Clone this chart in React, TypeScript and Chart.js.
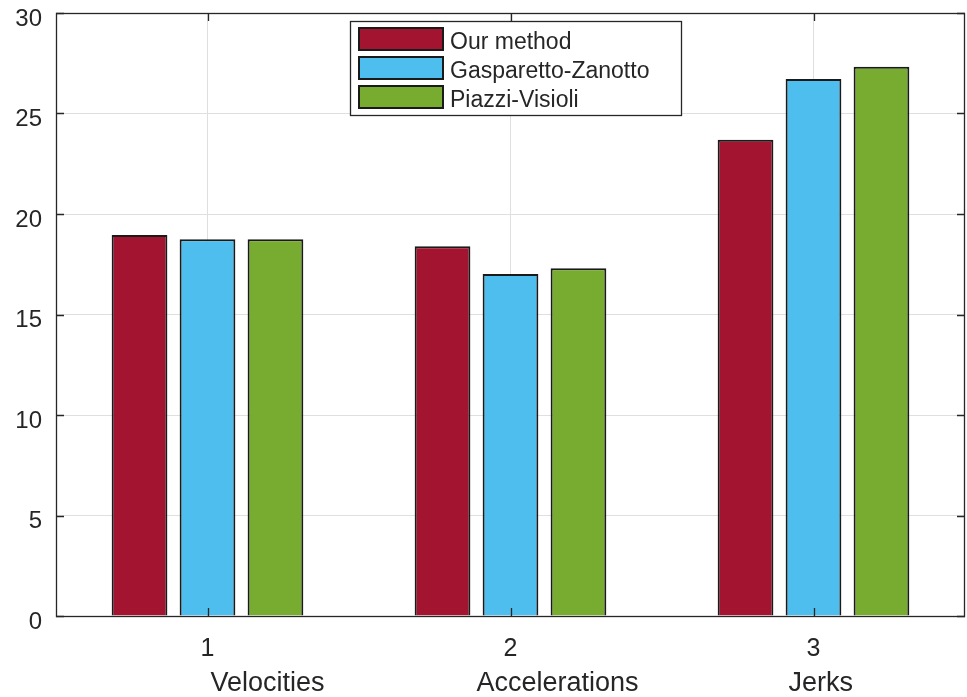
import React, { useEffect, useRef } from 'react';
import { Chart, registerables } from 'chart.js';

Chart.register(...registerables);

const categories = ['1', '2', '3'];
const groupNames = ['Velocities', 'Accelerations', 'Jerks'];
const seriesNames = ['Our method', 'Gasparetto-Zanotto', 'Piazzi-Visioli'];
const ourMethod = [18.95, 18.4, 23.7];
const gasparettoZanotto = [18.75, 17.02, 26.72];
const piazziVisioli = [18.75, 17.3, 27.32];
const yTickValues = [0, 5, 10, 15, 20, 25, 30];

const COLORS = ['#A2142F', '#4DBEEE', '#77AC30'];
const AXIS = '#262626';
const FONT = "'Liberation Sans', Arial, sans-serif";

const framePlugin = {
  id: 'matlabFrame',
  afterDatasetsDraw(chart: any) {
    const { ctx, chartArea, scales } = chart;
    const { left, right, top, bottom } = chartArea;
    const xs = scales.x;
    const ys = scales.y;
    ctx.save();
    ctx.strokeStyle = AXIS;
    ctx.lineWidth = 1.3;
    // tick marks (inward)
    ctx.beginPath();
    yTickValues.forEach((v) => {
      const y = Math.round(ys.getPixelForValue(v)) + 0.5;
      ctx.moveTo(left, y);
      ctx.lineTo(left + 8, y);
      ctx.moveTo(right, y);
      ctx.lineTo(right - 8, y);
    });
    categories.forEach((_, i) => {
      const x = Math.round(xs.getPixelForValue(i)) + 0.5;
      ctx.moveTo(x, bottom);
      ctx.lineTo(x, bottom - 8);
      ctx.moveTo(x, top);
      ctx.lineTo(x, top + 8);
    });
    ctx.stroke();
    // box
    ctx.strokeRect(Math.round(left) + 0.5, Math.round(top) + 0.5, Math.round(right - left) - 1, Math.round(bottom - top));

    // legend
    const lx = left + 294;
    const ly = top + 8;
    const lw = 331;
    const lh = 94;
    ctx.fillStyle = '#ffffff';
    ctx.fillRect(lx, ly, lw, lh);
    ctx.lineWidth = 1.3;
    ctx.strokeStyle = AXIS;
    ctx.strokeRect(Math.round(lx) + 0.5, Math.round(ly) + 0.5, lw, lh);
    ctx.font = `23px ${FONT}`;
    ctx.textBaseline = 'middle';
    ctx.textAlign = 'left';
    seriesNames.forEach((name, i) => {
      const sy = ly + 7 + i * 29;
      ctx.fillStyle = COLORS[i];
      ctx.fillRect(lx + 9, sy, 84, 22);
      ctx.strokeStyle = '#1a1a1a';
      ctx.lineWidth = 2;
      ctx.strokeRect(lx + 9, sy, 84, 22);
      ctx.fillStyle = AXIS;
      ctx.fillText(name, lx + 100, sy + 11 + 4);
    });

    // group names below tick labels
    const offsets = [3, -34, -25];
    ctx.font = `27px ${FONT}`;
    ctx.textBaseline = 'alphabetic';
    ctx.fillStyle = AXIS;
    groupNames.forEach((name, i) => {
      const x = xs.getPixelForValue(i) + offsets[i];
      ctx.fillText(name, x, bottom + 75);
    });
    ctx.restore();
  },
};

function BarChart() {
  const ref = useRef<HTMLCanvasElement | null>(null);
  useEffect(() => {
    if (!ref.current) return;
    const chart = new Chart(ref.current, {
      type: 'bar',
      data: {
        labels: categories,
        datasets: [
          { label: seriesNames[0], data: ourMethod, backgroundColor: COLORS[0] },
          { label: seriesNames[1], data: gasparettoZanotto, backgroundColor: COLORS[1] },
          { label: seriesNames[2], data: piazziVisioli, backgroundColor: COLORS[2] },
        ].map((d) => ({
          ...d,
          borderColor: '#1a1a1a',
          borderWidth: 2,
          categoryPercentage: 0.673,
          barPercentage: 0.82,
        })),
      },
      options: {
        responsive: false,
        animation: false,
        devicePixelRatio: 1,
        layout: { padding: { top: 13, right: 2, left: 0, bottom: 0 } },
        plugins: {
          legend: { display: false },
          tooltip: { enabled: false },
        },
        scales: {
          x: {
            offset: true,
            grid: { offset: false, color: '#dfdfdf', drawTicks: false, lineWidth: 1 },
            border: { display: false },
            ticks: {
              color: AXIS,
              font: { family: FONT, size: 25 },
              padding: 18,
              maxRotation: 0,
            },
            afterFit: (scale: any) => {
              scale.height = 81;
              scale.paddingLeft = 0;
              scale.paddingRight = 0;
            },
          },
          y: {
            min: 0,
            max: 30,
            grid: { color: '#dfdfdf', drawTicks: false, lineWidth: 1 },
            border: { display: false },
            ticks: {
              stepSize: 5,
              color: AXIS,
              font: { family: FONT, size: 24 },
              padding: 14,
              labelOffset: 6,
            },
            afterFit: (scale: any) => {
              scale.width = 56;
              scale.paddingTop = 0;
              scale.paddingBottom = 0;
            },
          },
        },
      },
      plugins: [framePlugin],
    });
    return () => chart.destroy();
  }, []);
  return <canvas ref={ref} width={967} height={697} style={{ display: 'block' }} />;
}

export default function App() {
  return (
    <div style={{ position: 'absolute', left: 0, top: 0, width: 967, height: 697, background: '#ffffff' }}>
      <BarChart />
    </div>
  );
}
